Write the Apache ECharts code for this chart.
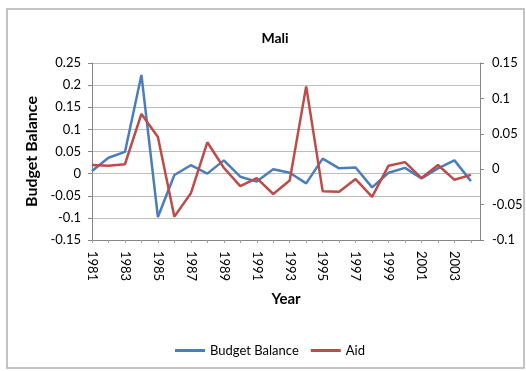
<!DOCTYPE html>
<html>
<head>
<meta charset="utf-8">
<script src="https://cdn.jsdelivr.net/npm/echarts@6/dist/echarts.min.js"></script>
<style>
  html, body { margin: 0; padding: 0; background: #fff; }
  #chart { width: 526px; height: 371px; }
</style>
</head>
<body>
<div id="chart"></div>
<script>
var years = [1981, 1982, 1983, 1984, 1985, 1986, 1987, 1988, 1989, 1990, 1991, 1992,
             1993, 1994, 1995, 1996, 1997, 1998, 1999, 2000, 2001, 2002, 2003, 2004];
var budgetBalance = [0.006, 0.036, 0.049, 0.223, -0.098, -0.003, 0.019, 0.0, 0.03, -0.007, -0.018, 0.01,
                     0.002, -0.022, 0.034, 0.012, 0.014, -0.031, 0.002, 0.013, -0.011, 0.012, 0.03, -0.017];
var aid = [0.006, 0.005, 0.007, 0.078, 0.0455, -0.067, -0.034, 0.038, 0.002, -0.024, -0.0125, -0.035,
           -0.016, 0.117, -0.031, -0.032, -0.014, -0.039, 0.005, 0.010, -0.0125, 0.006, -0.015, -0.008];

var font = 'Lato, "Open Sans", sans-serif';
var gray = '#868686';

var myChart = echarts.init(document.getElementById('chart'));
var option = {
    animation: false,
    textStyle: { fontFamily: font },
    title: {
        text: 'Mali',
        left: 270,
        top: 26,
        textAlign: 'center',
        textStyle: { fontSize: 14, fontWeight: 'bold', color: '#000', fontFamily: font }
    },
    graphic: [{
        type: 'rect',
        shape: { x: 7, y: 9, width: 517, height: 359 },
        style: { fill: 'none', stroke: '#b0b0b0', lineWidth: 1.5 }
    }],
    legend: {
        left: 170,
        top: 339,
        icon: 'rect',
        itemWidth: 30,
        itemHeight: 3,
        itemGap: 12,
        textStyle: { fontSize: 13, color: '#000', fontFamily: font },
        data: ['Budget Balance', 'Aid']
    },
    grid: { left: 92, right: 46, top: 63, bottom: 131 },
    xAxis: {
        type: 'value',
        min: 1981,
        max: 2004.55,
        interval: 1,
        name: 'Year',
        nameLocation: 'middle',
        nameGap: 52,
        nameTextStyle: { fontSize: 15, fontWeight: 'bold', color: '#000' },
        splitLine: { show: false },
        axisLine: { show: true, onZero: false, lineStyle: { color: gray } },
        axisTick: { show: true, length: 3, lineStyle: { color: '#a0a0a0' } },
        axisLabel: {
            rotate: -90,
            margin: 11,
            fontSize: 13,
            color: '#000',
            showMaxLabel: false,
            formatter: function (v) {
                return (Number.isInteger(v) && v % 2 === 1) ? String(v) : '';
            }
        }
    },
    yAxis: [{
        type: 'value',
        min: -0.15,
        max: 0.25,
        interval: 0.05,
        name: 'Budget Balance',
        nameLocation: 'middle',
        nameGap: 47,
        nameTextStyle: { fontSize: 16, fontWeight: 'bold', color: '#000' },
        axisLine: { show: true, lineStyle: { color: gray } },
        axisTick: { show: true, length: 4, lineStyle: { color: gray } },
        axisLabel: { fontSize: 13, color: '#000', margin: 11 },
        splitLine: { lineStyle: { color: '#bcbcbc' } }
    }, {
        type: 'value',
        min: -0.1,
        max: 0.15,
        interval: 0.05,
        position: 'right',
        axisLine: { show: true, lineStyle: { color: gray } },
        axisTick: { show: true, length: 4, lineStyle: { color: gray } },
        axisLabel: { fontSize: 13, color: '#000', margin: 12 },
        splitLine: { show: false }
    }],
    series: [{
        name: 'Budget Balance',
        type: 'line',
        yAxisIndex: 0,
        symbol: 'none',
        data: years.map(function (y, i) { return [y, budgetBalance[i]]; }),
        lineStyle: { color: '#4a7ebb', width: 2.5 },
        itemStyle: { color: '#4a7ebb' }
    }, {
        name: 'Aid',
        type: 'line',
        yAxisIndex: 1,
        symbol: 'none',
        data: years.map(function (y, i) { return [y, aid[i]]; }),
        lineStyle: { color: '#be4b48', width: 2.5 },
        itemStyle: { color: '#be4b48' }
    }]
};
myChart.setOption(option);
</script>
</body>
</html>
